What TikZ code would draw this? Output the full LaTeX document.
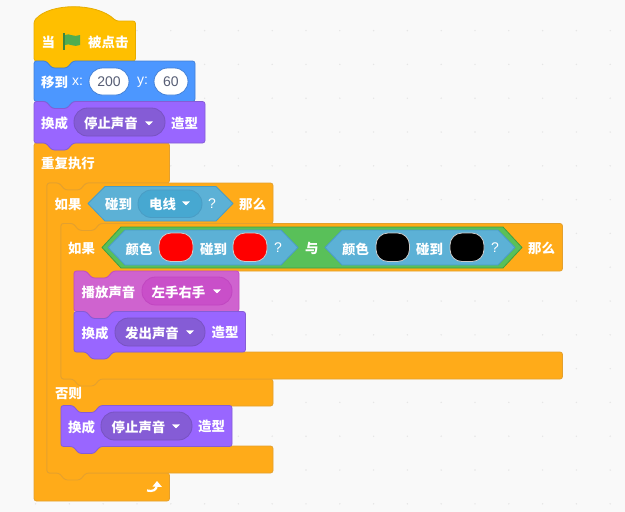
\documentclass[tikz,border=0pt]{standalone}
\usepackage{fontspec}
\setmainfont{Noto Sans CJK SC}
\newfontfamily\lblfont{Noto Sans CJK SC}
\newfontfamily\latfont{Liberation Sans}
\definecolor{bgc}{HTML}{F9F9F9}
\definecolor{dotc}{HTML}{E6E6E6}
\definecolor{motion}{HTML}{4C97FF}\definecolor{motionE}{HTML}{4280D7}
\definecolor{looks}{HTML}{9966FF}\definecolor{looksE}{HTML}{855CD6}
\definecolor{soundc}{HTML}{CF63CF}\definecolor{soundE}{HTML}{C94FC9}\definecolor{soundS}{HTML}{BD42BD}
\definecolor{ctrl}{HTML}{FFAB19}\definecolor{ctrlE}{HTML}{E3A02F}
\definecolor{hatc}{HTML}{FFBF00}\definecolor{hatE}{HTML}{E6AC00}
\definecolor{sense}{HTML}{5CB1D6}\definecolor{senseE}{HTML}{47A8D1}\definecolor{senseS}{HTML}{4A9CC4}
\definecolor{oper}{HTML}{59C059}\definecolor{operE}{HTML}{389438}
\definecolor{ink}{HTML}{575E75}
\def\nr#1#2{-- (#1+12,#2) -- (#1+18,#2+7) -- (#1+33,#2+7) -- (#1+39,#2)}
\def\nl#1#2{-- (#1+39,#2) -- (#1+33,#2+7) -- (#1+18,#2+7) -- (#1+12,#2)}
\tikzset{
  x=1pt,y=-1pt,
  blk/.style={rounded corners=2.5pt,line width=0.8pt},
  motionblk/.style={blk,fill=motion,draw=motionE},
  looksblk/.style={blk,fill=looks,draw=looksE},
  soundblk/.style={blk,fill=soundc,draw=soundS!70!soundc},
  ctrlblk/.style={blk,fill=ctrl,draw=ctrlE},
  hatblk/.style={blk,fill=hatc,draw=hatE},
  senseHex/.style={fill=sense,draw=senseS,line width=0.8pt,line join=round},
  operHex/.style={fill=oper,draw=operE!75!oper,line width=0.8pt,line join=round},
  lbl/.style={anchor=west,inner sep=0pt,yshift=-0.4pt,text=white,font=\lblfont\bfseries\fontsize{13.4}{13.4}\selectfont},
  latlbl/.style={anchor=west,inner sep=0pt,text=white,font=\latfont\fontsize{14}{14}\selectfont},
  numtxt/.style={anchor=center,inner sep=0pt,text=ink,font=\latfont\fontsize{14}{14}\selectfont},
  tri/.style={fill=white,draw=white,line width=0.4pt,line join=round},
}
\newcommand{\stk}[5]{\draw[#5] (#1,#2) \nr{#1}{#2} -- (#3,#2) -- (#3,#4) \nl{#1}{#4} -- (#1,#4) -- cycle;}
\newcommand{\pill}[6]{\draw[line width=0.8pt,fill=#5,draw=#6,rounded corners=13.5pt] (#1,#2) rectangle (#3,#4);}
\newcommand{\drop}[2]{\fill[tri] (#1-3.5,#2-1.5) -- (#1+3.5,#2-1.5) -- (#1,#2+2) -- cycle;}
\newcommand{\swatch}[3]{\draw[line width=0.8pt,fill=#3,draw=white!80!black,rounded corners=12pt] (#1,233) rectangle (#2,261.5);}
\newcommand{\hexa}[7]{\draw[#7] (#1,#5) -- (#2,#4) -- (#3-#2+#1,#4) -- (#3,#5) -- (#3-#2+#1,#6) -- (#2,#6) -- cycle;}
\begin{document}
\begin{tikzpicture}
\useasboundingbox (0,0) rectangle (625,512);
\fill[bgc] (0,0) rectangle (625,512);
\foreach \i in {0,...,17} \foreach \j in {0,...,14}
  \fill[dotc] (35.6+\i*33.8,30.6+\j*33.8) circle (0.8);

% C blocks, outermost first
\draw[ctrlblk] (34,143) \nr{34}{143} -- (169.5,143) -- (169.5,183) \nl{47}{183} -- (47,183) -- (47,473) -- (169.5,473) -- (169.5,501) -- (34,501) -- cycle;
\draw[ctrlblk] (47,183) \nr{47}{183} -- (273,183) -- (273,223.5) \nl{61}{223.5} -- (61,223.5) -- (61,379) -- (273,379) -- (273,406) \nl{61}{406} -- (61,406) -- (61,446) -- (273,446) -- (273,473) \nl{47}{473} -- (47,473) -- cycle;
\draw[ctrlblk] (61,223.5) \nr{61}{223.5} -- (562.5,223.5) -- (562.5,271) \nl{74}{271} -- (74,271) -- (74,352) -- (562.5,352) -- (562.5,379) \nl{61}{379} -- (61,379) -- cycle;

% stack blocks
\draw[hatblk] (34,21) .. controls (50,2.5) and (97,2.5) .. (116,21) -- (135.5,21) -- (135.5,61) \nl{34}{61} -- (34,61) -- cycle;
\stk{34}{61}{195}{101.5}{motionblk}
\stk{34}{101.5}{205}{143}{looksblk}
\stk{74}{271}{239}{311.5}{soundblk}
\stk{74}{311.5}{245.5}{352}{looksblk}
\stk{61}{405.5}{232}{446.5}{looksblk}

% hat block contents
\node[lbl] (t1) at (41.5,42) {当};
\draw[line width=1.5pt,draw=oper!70!black] (64,33) -- (64,50);
\fill[oper!90!black] (65,35) .. controls (69,32.5) and (74,38) .. (80,35) -- (80,45) .. controls (74,48) and (69,42.5) .. (65,45) -- cycle;
\node[lbl] (t2) at (88,42) {被点击};

% move block
\node[lbl] (t3) at (41,82) {移到};
\node[latlbl] (t3b) at (72,82) {x:};
\pill{89}{68}{129}{95}{white}{motionE}
\node[numtxt] (n1) at (109,81.5) {200};
\node[latlbl] (t4) at (137,82.5) {y:};
\pill{154}{68}{188}{95}{white}{motionE}
\node[numtxt] (n2) at (171,81.5) {60};

% costume block 1
\node[lbl] (t5) at (41,123) {换成};
\pill{74}{108}{165}{136}{looksE}{looksE!90!black}
\node[lbl] (t6) at (84,123) {停止声音};
\drop{149}{123}
\node[lbl] (t7) at (171,123) {造型};

\node[lbl] (t8) at (41,163) {重复执行};

% outer if
\node[lbl] (t9) at (54.5,204) {如果};
\hexa{88}{105}{233}{186.5}{203.5}{221}{senseHex}
\node[lbl] (t10) at (105,204) {碰到};
\pill{138}{190}{202}{217.5}{senseE}{senseS}
\node[lbl] (t11) at (149,204) {电线};
\drop{186}{203}
\node[latlbl] (t12) at (208,203.5) {?};
\node[lbl] (t13) at (239,204) {那么};

% inner if
\node[lbl] (t14) at (68,248.5) {如果};
\hexa{102}{121}{522}{227}{247.5}{268}{operHex}
\hexa{108}{125}{298}{230}{247.5}{265}{senseHex}
\hexa{325}{342}{515}{230}{247.5}{265}{senseHex}
\node[lbl] (t15) at (125.5,248.5) {颜色};
\swatch{159}{193}{red}
\node[lbl] (t16) at (200,248.5) {碰到};
\swatch{233}{267}{red}
\node[latlbl] (t17) at (274,248) {?};
\node[lbl] (t18) at (305,248.5) {与};
\node[lbl] (t19) at (342,248.5) {颜色};
\swatch{376}{409.5}{black}
\node[lbl] (t20) at (416,248.5) {碰到};
\swatch{450}{484}{black}
\node[latlbl] (t21) at (491,248) {?};
\node[lbl] (t22) at (528,248.5) {那么};

% sound block
\node[lbl] (t23) at (81.5,291.5) {播放声音};
\pill{142}{277}{232}{305}{soundE}{soundS!70!soundE}
\node[lbl] (t24) at (151.5,291.5) {左手右手};
\drop{217}{291}

% costume block 2
\node[lbl] (t25) at (81.5,332.5) {换成};
\pill{115}{318}{205}{346}{looksE}{looksE!90!black}
\node[lbl] (t26) at (125,332.5) {发出声音};
\drop{190}{332}
\node[lbl] (t27) at (211.5,332.5) {造型};

\node[lbl] (t28) at (55,393.5) {否则};

% costume block 3
\node[lbl] (t29) at (68,426.5) {换成};
\pill{101}{412}{192}{440}{looksE}{looksE!90!black}
\node[lbl] (t30) at (111.5,426.5) {停止声音};
\drop{176}{426}
\node[lbl] (t31) at (198,426.5) {造型};

% loop arrow
\draw[white,line width=2.2pt] (147,490.5) .. controls (153,492) and (156.5,490) .. (157,485);
\fill[white] (157,481) -- (162,487) -- (152.5,486.5) -- cycle;
\end{tikzpicture}
\end{document}
